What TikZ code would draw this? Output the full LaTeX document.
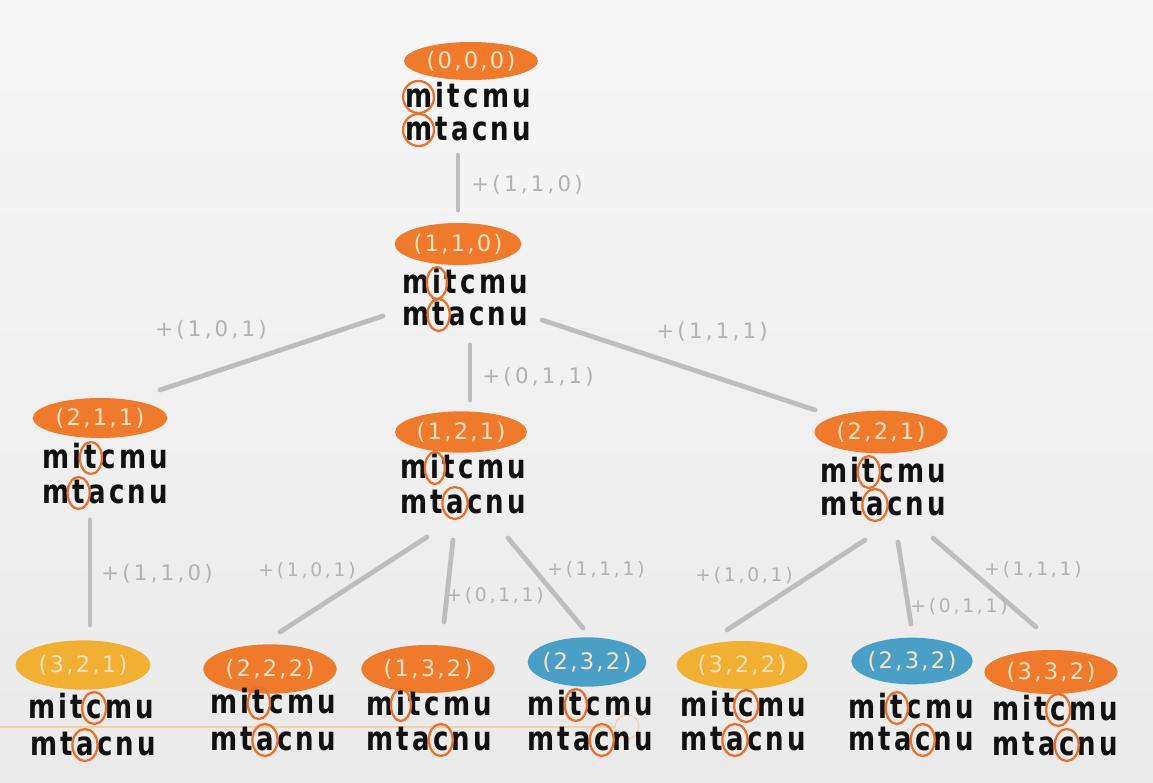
\documentclass[tikz,border=0pt]{standalone}
\usepackage{fontspec}
\usetikzlibrary{calc,shapes.geometric}
\newfontfamily\wordfont[FakeStretch=0.78]{DejaVu Sans}
\newfontfamily\labfont[LetterSpace=10]{DejaVu Sans}
\newfontfamily\edgefont[LetterSpace=15]{DejaVu Sans}
\definecolor{orng}{HTML}{F07A2C}
\definecolor{ylw}{HTML}{F2B033}
\definecolor{blu}{HTML}{4A9FC6}
\definecolor{labc}{HTML}{FBE2C2}
\definecolor{ringc}{HTML}{E8702A}
\definecolor{edgec}{HTML}{BDBDBD}
\definecolor{elabc}{HTML}{B2B2B2}
\definecolor{wordc}{HTML}{111111}
\definecolor{bgtop}{HTML}{F7F7F7}
\definecolor{bgbot}{HTML}{EAEAEA}
\definecolor{trail}{HTML}{F6CFA4}
\tikzset{
  lt/.style={anchor=base west, inner sep=0pt, outer sep=0pt, text=wordc,
    font=\wordfont\bfseries\fontsize{25}{28}\selectfont},
  blob/.style={ellipse, inner sep=-10pt, text=labc,
    font=\labfont\fontsize{17}{19}\selectfont},
  edge/.style={draw=edgec, line width=3.6pt, line cap=round},
  elab/.style={text=elabc, inner sep=0pt, font=\edgefont\fontsize{16}{18}\selectfont},
  elabs/.style={elab, font=\edgefont\fontsize{14}{16}\selectfont},
  ring/.style={draw=ringc, line width=1.7pt},
}
\newcommand\mkword[9]{%
  \node[lt] (#1-1) at (#2,#3) {#4};
  \node[lt] (#1-2) at ([xshift=2.5pt]#1-1.base east) {#5};
  \node[lt] (#1-3) at ([xshift=2.5pt]#1-2.base east) {#6};
  \node[lt] (#1-4) at ([xshift=2.5pt]#1-3.base east) {#7};
  \node[lt] (#1-5) at ([xshift=2.5pt]#1-4.base east) {#8};
  \node[lt] (#1-6) at ([xshift=2.5pt]#1-5.base east) {#9};
}
\newcommand\wA[3]{\mkword{#1}{#2}{#3}{m}{i}{t}{c}{m}{u}}
\newcommand\wB[3]{\mkword{#1}{#2}{#3}{m}{t}{a}{c}{n}{u}}
\newcommand\ringat[1]{\draw[ring] let \p1=($(#1.east)-(#1.west)$) in
  ([yshift=7.5pt]#1.base) ellipse [x radius={0.3*\x1+5.5pt}, y radius=12pt];}
\begin{document}
\begin{tikzpicture}[x=0.75pt,y=-0.75pt]
\useasboundingbox (0,0) rectangle (1153,782);
\fill[top color=bgtop, bottom color=bgbot] (0,0) rectangle (1153,782);
% faint trail
\coordinate (tr1) at (0,727);
\coordinate (tr2) at (615,727);
\draw[trail, line width=0.9pt] (tr1) -- (tr2);
\draw[trail, line width=0.9pt] (627,727) circle [radius=9pt];

% ---- blobs ----
\node[blob, fill=orng, minimum width=100.5pt, minimum height=28.5pt] (n000) at (471,61) {(0,0,0)};
\node[blob, fill=orng, minimum width=95pt, minimum height=31.5pt] (n110) at (458,244) {(1,1,0)};
\node[blob, fill=orng, minimum width=101pt, minimum height=30pt] (n211) at (100,418) {(2,1,1)};
\node[blob, fill=orng, minimum width=99pt, minimum height=31pt] (n121) at (461,432) {(1,2,1)};
\node[blob, fill=orng, minimum width=100pt, minimum height=32pt] (n221) at (881,432) {(2,2,1)};
\node[blob, fill=ylw, minimum width=101pt, minimum height=37pt] (n321) at (83,665) {(3,2,1)};
\node[blob, fill=orng, minimum width=100pt, minimum height=37pt] (n222) at (270,669) {(2,2,2)};
\node[blob, fill=orng, minimum width=100pt, minimum height=36pt] (n132) at (428,669) {(1,3,2)};
\node[blob, fill=blu, minimum width=89pt, minimum height=37pt] (n232a) at (587,662) {(2,3,2)};
\node[blob, fill=ylw, minimum width=98pt, minimum height=36pt] (n322) at (742,665) {(3,2,2)};
\node[blob, fill=blu, minimum width=91pt, minimum height=35pt] (n232b) at (912,661) {(2,3,2)};
\node[blob, fill=orng, minimum width=100pt, minimum height=33pt] (n332) at (1051,672) {(3,3,2)};

% ---- words ----
\wA{a000}{405}{107} \wB{b000}{405}{140}
\wA{a110}{402}{293} \wB{b110}{402}{325}
\wA{a211}{42}{468}  \wB{b211}{42}{503}
\wA{a121}{400}{478} \wB{b121}{400}{513}
\wA{a221}{820}{482} \wB{b221}{820}{515}
\wA{a321}{28}{718}  \wB{b321}{30}{755}
\wA{a222}{210}{713} \wB{b222}{210}{750}
\wA{a132}{366}{715} \wB{b132}{366}{750}
\wA{a232a}{527}{715} \wB{b232a}{527}{750}
\wA{a322}{680}{716} \wB{b322}{680}{750}
\wA{a232b}{848}{718} \wB{b232b}{848}{750}
\wA{a332}{992}{720} \wB{b332}{992}{755}

% ---- rings ----
\ringat{a000-1} \ringat{b000-1}
\ringat{a110-2} \ringat{b110-2}
\ringat{a211-3} \ringat{b211-2}
\ringat{a121-2} \ringat{b121-3}
\ringat{a221-3} \ringat{b221-3}
\ringat{a321-4} \ringat{b321-3}
\ringat{a222-3} \ringat{b222-3}
\ringat{a132-2} \ringat{b132-4}
\ringat{a232a-3} \ringat{b232a-4}
\ringat{a322-4} \ringat{b322-3}
\ringat{a232b-3} \ringat{b232b-4}
\ringat{a332-4} \ringat{b332-4}

% ---- connectors ----
\coordinate (e0s) at (458,155);  \coordinate (e0e) at (458,210);
\coordinate (e1s) at (383,316);  \coordinate (e1e) at (160,390);
\coordinate (e2s) at (470,345);  \coordinate (e2e) at (470,400);
\coordinate (e3s) at (542,320);  \coordinate (e3e) at (815,410);
\coordinate (e4s) at (90,520);   \coordinate (e4e) at (90,625);
\coordinate (e5s) at (427,537);  \coordinate (e5e) at (280,632);
\coordinate (e6s) at (453,540);  \coordinate (e6e) at (444,622);
\coordinate (e7s) at (508,538);  \coordinate (e7e) at (583,628);
\coordinate (e8s) at (865,540);  \coordinate (e8e) at (727,630);
\coordinate (e9s) at (898,542);  \coordinate (e9e) at (911,624);
\coordinate (e10s) at (933,538); \coordinate (e10e) at (1036,627);
\foreach \i in {0,...,10}{\draw[edge] (e\i s) -- (e\i e);}

% ---- connector labels ----
\node[elab] (l0) at (527,185) {+(1,1,0)};
\node[elab] (l1) at (211,330) {+(1,0,1)};
\node[elab] (l2) at (538,377) {+(0,1,1)};
\node[elab] (l3) at (712,332) {+(1,1,1)};
\node[elab] (l4) at (157,574) {+(1,1,0)};
\node[elabs] (l5) at (307,571) {+(1,0,1)};
\node[elabs] (l6) at (495,596) {+(0,1,1)};
\node[elabs] (l7) at (596,570) {+(1,1,1)};
\node[elabs] (l8) at (744,576) {+(1,0,1)};
\node[elabs] (l9) at (959,607) {+(0,1,1)};
\node[elabs] (l10) at (1033,570) {+(1,1,1)};
\end{tikzpicture}
\end{document}
